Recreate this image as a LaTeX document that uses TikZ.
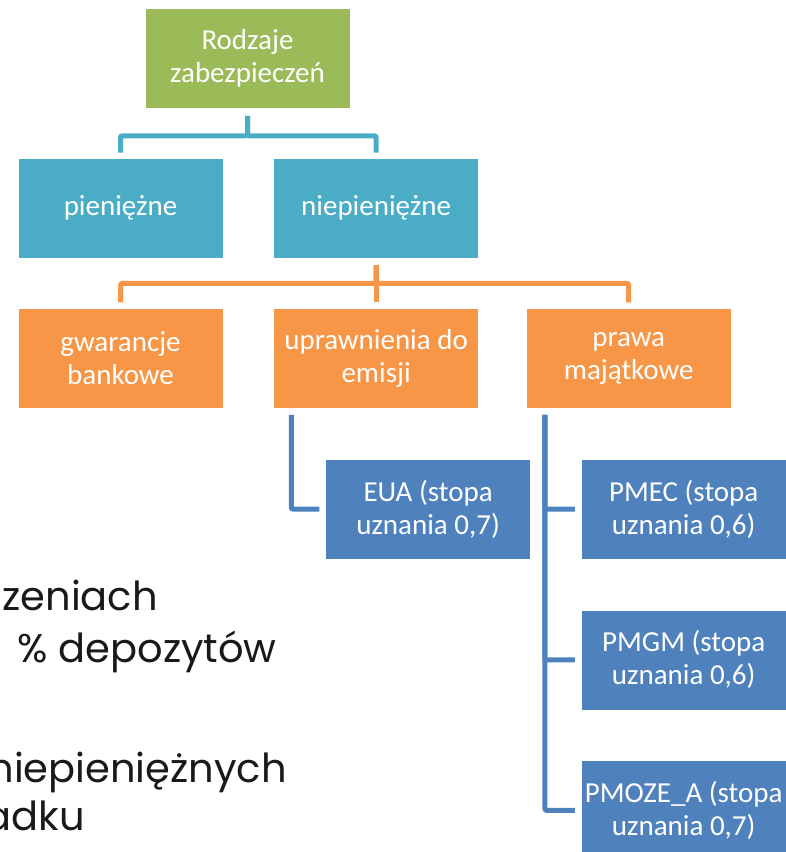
\documentclass[tikz,border=0pt]{standalone}
\usepackage{fontspec}
\setmainfont{Carlito}
\newfontfamily\bodyfont{Poppins}
\usepackage{tikz}
\usetikzlibrary{positioning}
\definecolor{rootgreen}{HTML}{9BBB59}
\definecolor{levelteal}{HTML}{4BACC6}
\definecolor{levelorange}{HTML}{F79646}
\definecolor{leafblue}{HTML}{4F81BD}
\tikzstyle{box} = [rectangle, draw=white, line width=0.6pt, text=white,
align=center, minimum width=205pt, minimum height=100pt, inner sep=0pt,
font=\fontsize{29}{33}\selectfont]
\tikzstyle{topbox} = [box, fill=rootgreen]
\tikzstyle{tealbox} = [box, fill=levelteal]
\tikzstyle{orangebox} = [box, fill=levelorange]
\tikzstyle{bluebox} = [box, fill=leafblue]
\tikzstyle{tline} = [draw=levelteal, line width=5pt, rounded corners=2pt]
\tikzstyle{oline} = [draw=levelorange, line width=5pt, rounded corners=2pt]
\tikzstyle{bline} = [draw=leafblue, line width=5pt, rounded corners=2pt]
\tikzstyle{bodytext} = [anchor=base east, inner sep=0pt, text=black!90,
font=\bodyfont\fontsize{40}{48}\selectfont]

\begin{document}
\begin{tikzpicture}[node distance=50pt, auto]
	\useasboundingbox (0,0) rectangle (786pt,-852pt);
	\clip (0,0) rectangle (786pt,-852pt);
	% Place nodes
	\node [topbox] (kind) at (247.5pt,-58.5pt) {Rodzaje\\zabezpieczeń};
	\node [tealbox] (cash) at (120.5pt,-208pt) {pieniężne};
	\node [tealbox, right=of cash] (noncash) {niepieniężne};
	\node [orangebox, below=of cash] (guar) {gwarancje\\bankowe};
	\node [orangebox, below=of noncash] (allow) {uprawnienia do\\emisji};
	\node [orangebox, right=47pt of allow] (rights) {prawa\\majątkowe};
	\node [bluebox, below=of allow, xshift=52pt] (eua) {EUA (stopa\\uznania 0,7)};
	\node [bluebox, below=of rights, xshift=55pt] (pmec) {PMEC (stopa\\uznania 0,6)};
	\node [bluebox, below=of pmec] (pmgm) {PMGM (stopa\\uznania 0,6)};
	\node [bluebox, below=of pmgm] (pmoze) {PMOZE\_A (stopa\\uznania 0,7)};
	%
	\path [tline] ([yshift=-7pt]kind.south) -- ++(0,-20pt) -| ([yshift=5pt]cash.north);
	\path [tline] ([yshift=-7pt]kind.south) -- ++(0,-20pt) -| ([yshift=5pt]noncash.north);
	\path [oline] ([yshift=-7pt]noncash.south) -- ++(0,-18pt) -| ([yshift=6pt]guar.north);
	\path [oline] ([yshift=-7pt]noncash.south) -- ++(0,-18pt) -| ([yshift=6pt]allow.north);
	\path [oline] ([yshift=-7pt]noncash.south) -- ++(0,-18pt) -| ([yshift=6pt]rights.north);
	\path [bline] ([xshift=18pt,yshift=-6pt]allow.south west) |- ([xshift=-6pt]eua.west);
	\path [bline] ([xshift=19pt,yshift=-6pt]rights.south west) |- ([xshift=-6pt]pmec.west);
	\path [bline] ([xshift=19pt,yshift=-6pt]rights.south west) |- ([xshift=-6pt]pmgm.west);
	\path [bline] ([xshift=19pt,yshift=-6pt]rights.south west) |- ([xshift=-6pt]pmoze.west);
	
	% slide text behind the chart, cut at the left edge
	\node [bodytext] (line1) at (158pt,-610pt) {zeniach};
	\node [bodytext] (line2) at (277pt,-662pt) {\% depozytów};
	\node [bodytext] (line3) at (287pt,-782pt) {niepieniężnych};
	\node [bodytext] (line4) at (85pt,-830pt) {adku};
\end{tikzpicture}
\end{document}
